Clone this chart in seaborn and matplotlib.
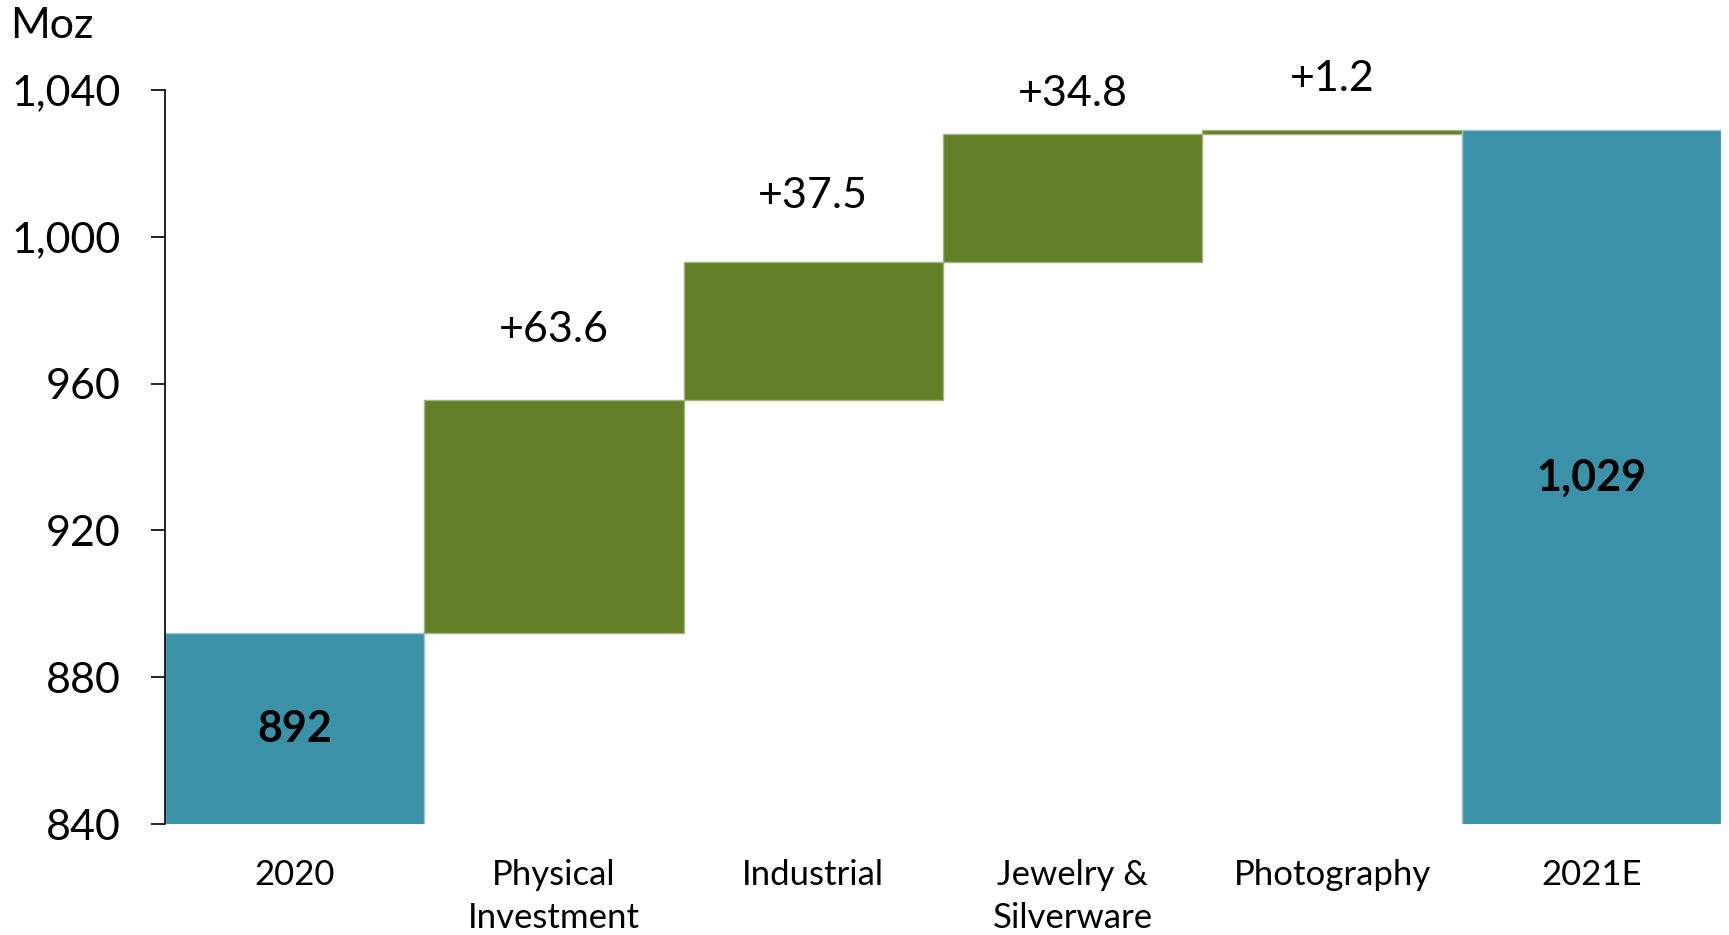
import numpy as np
import pandas as pd
import matplotlib.pyplot as plt
import seaborn as sns
from matplotlib.ticker import StrMethodFormatter

# --- DATI ---
categorie = ["2020", "Physical\nInvestment", "Industrial", "Jewelry &\nSilverware", "Photography", "2021E"]
valori = [892, 63.6, 37.5, 34.8, 1.2, 1029]
etichette = ["892", "+63.6", "+37.5", "+34.8", "+1.2", "1,029"]
is_totale = [True, False, False, False, False, True]
y_ticks = [840, 880, 920, 960, 1000, 1040]

# --- STILE ---
sns.set_theme(style="white")
plt.rcParams["font.family"] = ["Lato", "DejaVu Sans"]

COLORE_TOTALE = "#3A91A8"
COLORE_STEP = "#637F27"
SPOSTA_ETICHETTA = [0, 19, 18, 11, 14, 0]  # distanza etichetta sopra la barra (Moz)

# basi cumulative della cascata
basi = []
cumulato = 0
for v, tot in zip(valori, is_totale):
    if tot:
        basi.append(0)
        cumulato = v
    else:
        basi.append(cumulato)
        cumulato += v

df = pd.DataFrame({"cat": categorie, "val": valori, "base": basi})

fig = plt.figure(figsize=(17.29, 9.35), dpi=100)
ax = fig.add_axes([0.0954, 0.1187, 0.9000, 0.785])

sns.barplot(data=df, x="cat", y="val", bottom=df["base"].values, width=1.0,
            color=COLORE_STEP, ax=ax, linewidth=1.0)

for patch, tot in zip(ax.patches, is_totale):
    c = COLORE_TOTALE if tot else COLORE_STEP
    patch.set_facecolor(c)
    patch.set_edgecolor("#9CC5D0" if tot else "#A2B57A")

# etichette
for i, (v, b, lab, tot) in enumerate(zip(valori, basi, etichette, is_totale)):
    if tot:
        ax.text(i, (840 + v) / 2, lab, ha="center", va="center",
                fontsize=31, fontweight="bold", color="black")
    else:
        ax.text(i, b + v + SPOSTA_ETICHETTA[i], lab, ha="center", va="center",
                fontsize=31, color="black")

ax.set_ylim(840, 1040)
ax.set_xlim(-0.5, len(categorie) - 0.5)
ax.set_yticks(y_ticks)
ax.yaxis.set_major_formatter(StrMethodFormatter("{x:,.0f}"))
ax.set_xlabel("")
ax.set_ylabel("")

ax.tick_params(axis="y", which="major", left=True, length=10, width=1.2,
               pad=22, labelsize=31, colors="black")
ax.tick_params(axis="x", length=0, pad=25, labelsize=25, colors="black")
for lab in ax.get_xticklabels():
    lab.set_linespacing(1.45)

for s in ["top", "right", "bottom"]:
    ax.spines[s].set_visible(False)
ax.spines["left"].set_color("black")
ax.spines["left"].set_linewidth(1.2)

fig.text(0.006, 0.972, "Moz", ha="left", va="center", fontsize=31, color="black")

plt.savefig("out.png", dpi=100)
plt.close()
